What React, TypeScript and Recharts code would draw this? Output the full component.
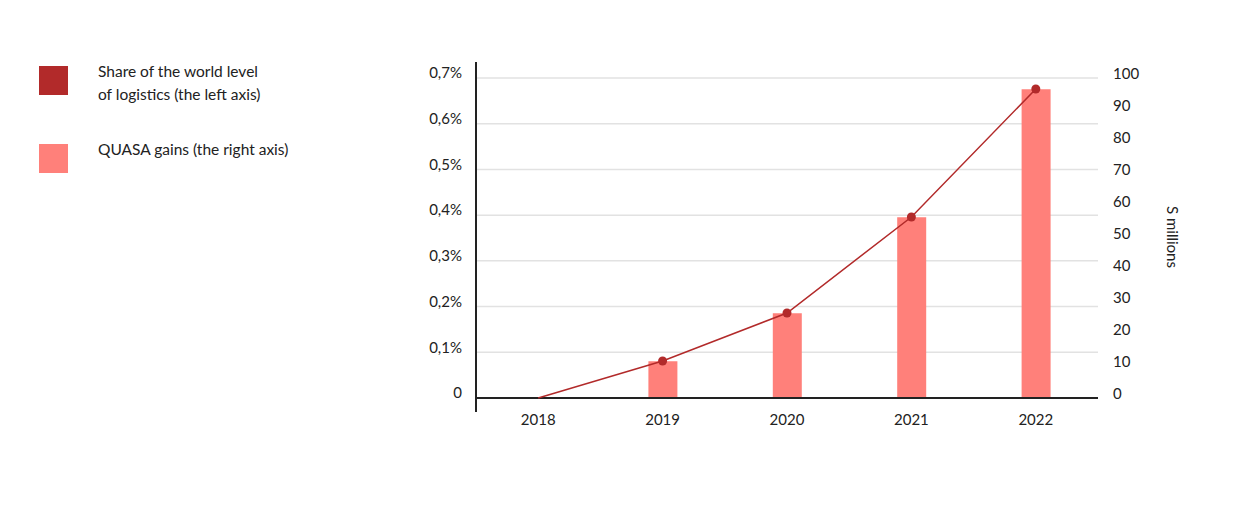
import React from 'react';
import { ComposedChart, Bar, Line, XAxis, YAxis, CartesianGrid, ReferenceLine } from 'recharts';

const years = ['2018', '2019', '2020', '2021', '2022'];
const shareOfWorld = [0, 0.081, 0.186, 0.396, 0.676]; // % (left axis)
const quasaGains = [0, 11.5, 26.5, 56.5, 96.5]; // $ millions (right axis)

const leftTicks = [0, 0.1, 0.2, 0.3, 0.4, 0.5, 0.6, 0.7];
const rightTicks = [0, 10, 20, 30, 40, 50, 60, 70, 80, 90, 100];

const LINE_COLOR = '#b22a2a';
const BAR_COLOR = '#ff807a';
const FONT = 'Lato, "Open Sans", sans-serif';

const data = years.map((year, i) => ({
  year,
  share: shareOfWorld[i],
  gains: quasaGains[i],
}));

const formatShare = (v: number) => (v === 0 ? '0' : `${v.toFixed(1).replace('.', ',')}%`);

const legendItems = [
  { color: LINE_COLOR, lines: ['Share of the world level', 'of logistics (the left axis)'] },
  { color: BAR_COLOR, lines: ['QUASA gains (the right axis)'] },
];

const ChartLegend: React.FC = () => (
  <div style={{ position: 'absolute', left: 31, top: 58, fontFamily: FONT, fontSize: 15.5, color: '#222' }}>
    {legendItems.map((item, i) => (
      <div key={i} style={{ display: 'flex', alignItems: 'flex-start', height: 78 }}>
        <div style={{ width: 29, height: 29, background: item.color, flexShrink: 0 }} />
        <div style={{ marginLeft: 30, marginTop: -6, lineHeight: '23px' }}>
          {item.lines.map((l, j) => (
            <div key={j}>{l}</div>
          ))}
        </div>
      </div>
    ))}
  </div>
);

// no marker on the first (zero) point
const LineDot = (props: any) => {
  const { cx, cy, index } = props;
  if (index === 0 || cx == null || cy == null) return <g key={`d${index}`} />;
  return <circle key={`d${index}`} cx={cx} cy={cy} r={4.5} fill={LINE_COLOR} />;
};

// grid line, skipping the ones on the plot's top/bottom edges
const GridLine = (props: any) => {
  const { x1, y1, x2, y2, y, height } = props;
  if (typeof y === 'number' && typeof height === 'number') {
    if (Math.abs(y1 - y) < 1 || Math.abs(y1 - (y + height)) < 1) return <g />;
  }
  return <line x1={x1} y1={y1} x2={x2} y2={y2} stroke="#e2e2e2" strokeWidth={1.5} fill="none" />;
};

export default function App() {
  const tickStyle = { fontFamily: FONT, fontSize: 15, fill: '#222' };
  return (
    <div style={{ position: 'relative', width: 1244, height: 500 }}>
      <ChartLegend />
      <ComposedChart
        width={1244}
        height={500}
        data={data}
        margin={{ top: 54, right: 6, left: 408, bottom: 66 }}
      >
        <CartesianGrid yAxisId="left" vertical={false} horizontal={GridLine} />
        <XAxis
          dataKey="year"
          axisLine={false}
          tickLine={false}
          tickSize={0}
          tickMargin={2}
          tick={tickStyle}
          height={30}
        />
        <YAxis
          yAxisId="left"
          domain={[-0.0306, 0.735]}
          allowDataOverflow
          ticks={leftTicks}
          tickFormatter={formatShare}
          axisLine={{ stroke: '#222', strokeWidth: 2 }}
          tickLine={false}
          tickSize={0}
          tickMargin={14}
          tick={{ ...tickStyle, dy: -5 }}
          width={60}
        />
        <YAxis
          yAxisId="right"
          orientation="right"
          domain={[-4.375, 105]}
          allowDataOverflow
          ticks={rightTicks}
          axisLine={false}
          tickLine={false}
          tickSize={0}
          tickMargin={15}
          tick={{ ...tickStyle, textAnchor: 'start', dy: -4 }}
          width={148}
          label={{ value: 'S millions', angle: 90, position: 'center', style: { fontFamily: FONT, fontSize: 15, fill: '#222' } }}
        />
        <Bar yAxisId="right" dataKey="gains" fill={BAR_COLOR} barSize={29} isAnimationActive={false} />
        <ReferenceLine yAxisId="left" y={0} stroke="#222" strokeWidth={2} />
        <Line
          yAxisId="left"
          type="linear"
          dataKey="share"
          stroke={LINE_COLOR}
          strokeWidth={1.5}
          dot={<LineDot />}
          activeDot={false}
          isAnimationActive={false}
        />
      </ComposedChart>
    </div>
  );
}
